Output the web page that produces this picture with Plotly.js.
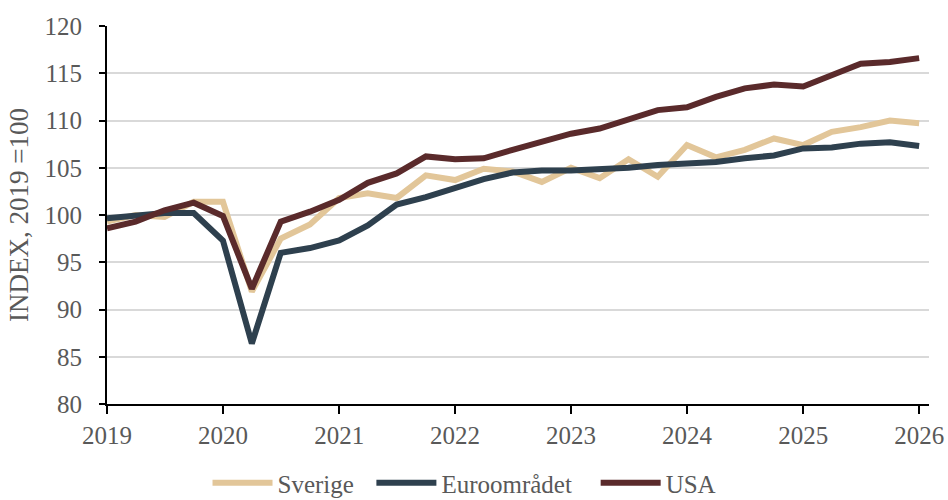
<!DOCTYPE html>
<html>
<head>
<meta charset="utf-8">
<script src="https://cdn.plot.ly/plotly-3.0.1.min.js"></script>
<style>html,body{margin:0;padding:0;background:#fff;}#chart{width:948px;height:500px;}</style>
</head>
<body>
<div id="chart"></div>
<script>
const quarters = [
  '2019-01-01','2019-04-01','2019-07-01','2019-10-01',
  '2020-01-01','2020-04-01','2020-07-01','2020-10-01',
  '2021-01-01','2021-04-01','2021-07-01','2021-10-01',
  '2022-01-01','2022-04-01','2022-07-01','2022-10-01',
  '2023-01-01','2023-04-01','2023-07-01','2023-10-01',
  '2024-01-01','2024-04-01','2024-07-01','2024-10-01',
  '2025-01-01','2025-04-01','2025-07-01','2025-10-01',
  '2026-01-01'
];
const sverige = [99.3, 100.0, 99.8, 101.4, 101.4, 91.9, 97.5, 99.0, 101.8, 102.3, 101.8, 104.2, 103.7, 104.9, 104.6, 103.5, 105.0, 103.9, 105.9, 104.05, 107.4, 106.1, 106.9, 108.1, 107.4, 108.8, 109.3, 110.0, 109.7];
const euro = [99.65, 100.0, 100.2, 100.2, 97.3, 86.4, 96.0, 96.5, 97.3, 98.9, 101.1, 101.9, 102.9, 103.8, 104.5, 104.7, 104.7, 104.8, 105.0, 105.3, 105.4, 105.6, 106.0, 106.3, 107.05, 107.15, 107.55, 107.7, 107.3];
const usa = [98.6, 99.3, 100.5, 101.3, 99.9, 92.2, 99.3, 100.35, 101.6, 103.4, 104.4, 106.2, 105.9, 106.0, 106.9, 107.75, 108.6, 109.15, 110.2, 111.1, 111.4, 112.5, 113.4, 113.8, 113.6, 114.8, 116.0, 116.2, 116.6];
const names = ['Sverige', 'Euroområdet', 'USA'];
const legendPad = ['\u00a0\u00a0', '\u00a0\u00a0\u00a0', ''];
const colors = ['#e2c699', '#2e404e', '#5a2a2b'];
const yTitle = 'INDEX, 2019 =100';

const series = [sverige, euro, usa];
const traces = series.map((s, i) => ({
  x: quarters, y: s, name: names[i] + legendPad[i], type: 'scatter', mode: 'lines',
  line: {color: colors[i], width: 6, shape: 'linear'},
  hoverinfo: 'x+y'
}));

const font = {family: '"Liberation Serif", "Times New Roman", serif', size: 25, color: '#595959'};

const layout = {
  width: 948, height: 500,
  margin: {l: 107, r: 19, t: 26, b: 96, pad: 0},
  paper_bgcolor: '#ffffff', plot_bgcolor: '#ffffff',
  font: font,
  showlegend: true,
  legend: {orientation: 'h', xref: 'container', yref: 'container', x: 0.49, xanchor: 'center', y: 0.034, yanchor: 'middle', font: font, itemwidth: 60, tracegroupgap: 0, bgcolor: 'rgba(0,0,0,0)'},
  xaxis: {
    type: 'date', range: ['2019-01-01', '2026-02-01'],
    dtick: 'M12', tick0: '2019-01-01', tickformat: '%Y',
    showgrid: false, zeroline: false,
    showline: true, linecolor: '#000000', linewidth: 2,
    ticks: 'outside', ticklen: 8, tickwidth: 2, tickcolor: '#000000',
    tickfont: font, fixedrange: true
  },
  yaxis: {
    range: [80, 120], dtick: 5, tick0: 80,
    showgrid: true, gridcolor: '#d9d9d9', gridwidth: 2,
    zeroline: false,
    showline: true, linecolor: '#000000', linewidth: 2,
    ticks: 'outside', ticklen: 6, tickwidth: 2, tickcolor: '#000000',
    ticklabelstandoff: 12,
    tickfont: font,
    title: {text: yTitle, font: {family: font.family, size: 27, color: '#595959'}, standoff: 8},
    fixedrange: true
  }
};

Plotly.newPlot('chart', traces, layout, {displayModeBar: false, staticPlot: true});
</script>
</body>
</html>
